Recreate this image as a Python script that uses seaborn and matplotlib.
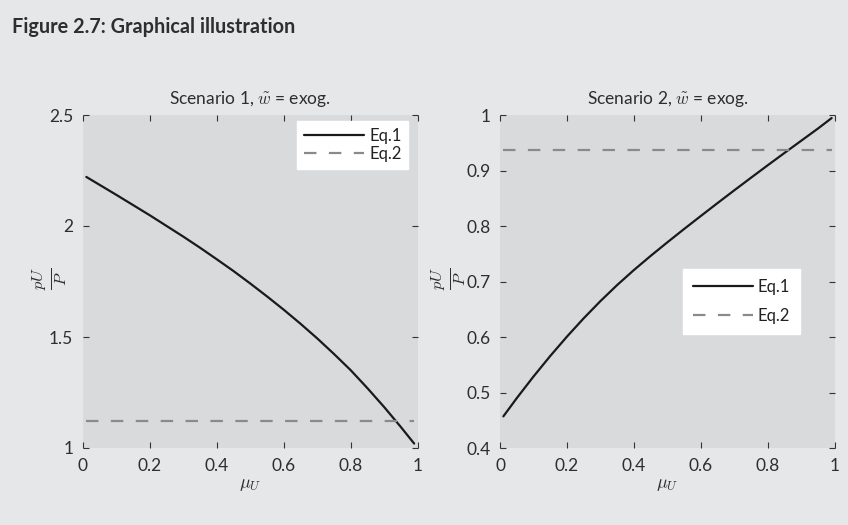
import numpy as np
import pandas as pd
import matplotlib
matplotlib.use("Agg")
import matplotlib.pyplot as plt
import seaborn as sns

# ---- data ----
mu_u = [0.01, 0.05, 0.1, 0.15, 0.2, 0.25, 0.3, 0.35, 0.4, 0.45, 0.5,
        0.55, 0.6, 0.65, 0.7, 0.75, 0.8, 0.85, 0.9, 0.95, 0.99]
s1_eq1 = [2.221, 2.185, 2.140, 2.094, 2.048, 2.000, 1.952, 1.902, 1.850, 1.797, 1.741,
          1.683, 1.623, 1.560, 1.494, 1.424, 1.351, 1.270, 1.185, 1.095, 1.020]
s1_eq2 = [1.12] * len(mu_u)
s2_eq1 = [0.457, 0.4898, 0.5288, 0.5658, 0.6008, 0.6338, 0.6648, 0.6938, 0.7208, 0.7463, 0.7708,
          0.7948, 0.8183, 0.8416, 0.8646, 0.8873, 0.9098, 0.932, 0.954, 0.976, 0.9945]
s2_eq2 = [0.937] * len(mu_u)
titles = [r"Scenario 1, $\tilde{w}$ = exog.", r"Scenario 2, $\tilde{w}$ = exog."]
xticks = [0, 0.2, 0.4, 0.6, 0.8, 1]
xticklabels = ["0", "0.2", "0.4", "0.6", "0.8", "1"]
yticks1 = [1, 1.5, 2, 2.5]
yticklabels1 = ["1", "1.5", "2", "2.5"]
yticks2 = [0.4, 0.5, 0.6, 0.7, 0.8, 0.9, 1]
yticklabels2 = ["0.4", "0.5", "0.6", "0.7", "0.8", "0.9", "1"]

sns.set_theme(style="white")
plt.rcParams['font.family'] = ['Lato', 'DejaVu Sans']
plt.rcParams['mathtext.fontset'] = 'cm'

FIG_BG = "#e6e7e8"
AX_BG = "#d9dadb"
TXT = "#2e2e2e"

fig = plt.figure(figsize=(8.48, 5.25), dpi=100, facecolor=FIG_BG)
ax1 = fig.add_axes([83/848, 1-448/525, 334.5/848, 333/525])
ax2 = fig.add_axes([500/848, 1-448/525, 335/848, 333/525])

fig.text(12/848, 1-27/525, "Figure 2.7: Graphical illustration", fontsize=14.3,
         fontweight="bold", color=TXT, va="center", ha="left")

def make_df(y1, y2):
    return pd.DataFrame({
        "mu": mu_u * 2,
        "val": list(y1) + list(y2),
        "eq": ["Eq.1"] * len(mu_u) + ["Eq.2"] * len(mu_u),
    })

panels = [
    (ax1, make_df(s1_eq1, s1_eq2), titles[0], yticks1, (1, 2.5), yticklabels1, -0.042),
    (ax2, make_df(s2_eq1, s2_eq2), titles[1], yticks2, (0.4, 1), yticklabels2, -0.097),
]

for i, (ax, df, title, yt, ylim, ylab, lblx) in enumerate(panels):
    ax.set_facecolor(AX_BG)
    sns.lineplot(data=df, x="mu", y="val", hue="eq", style="eq",
                 palette={"Eq.1": "#1a1a1a", "Eq.2": "#8a8a8a"},
                 dashes={"Eq.1": "", "Eq.2": (5.6, 5.6)},
                 linewidth=1.6, ax=ax)
    ax.set_xlim(0, 1)
    ax.set_ylim(*ylim)
    ax.set_xticks(xticks)
    ax.set_xticklabels(xticklabels)
    ax.set_yticks(yt)
    ax.set_yticklabels(ylab)
    for s in ax.spines.values():
        s.set_visible(False)
    ax.tick_params(direction="in", length=4, width=0.8, color="#333333",
                   top=True, right=True, bottom=True, left=True,
                   labelsize=12.5, labelcolor=TXT, pad=7)
    ax.set_title(title, fontsize=12.5, color=TXT, pad=8)
    ax.set_xlabel(r"$\mu_U$", fontsize=13, color=TXT, labelpad=2)
    ax.set_ylabel(r"$\frac{pU}{P}$", fontsize=17, color=TXT)
    ax.yaxis.set_label_coords(lblx, 0.51)
    ax.grid(False)

    handles, labels = ax.get_legend_handles_labels()
    if i == 0:
        leg = ax.legend(handles, labels, loc="upper right", bbox_to_anchor=(0.972, 0.982),
                        borderaxespad=0, frameon=True, fancybox=False, framealpha=1,
                        facecolor="white", edgecolor="white", fontsize=12,
                        handlelength=3.6, labelspacing=0.15, handletextpad=0.3,
                        borderpad=0.4)
    else:
        leg = ax.legend(handles, labels, loc="upper right", bbox_to_anchor=(0.896, 0.5375),
                        borderaxespad=0, frameon=True, fancybox=False, framealpha=1,
                        facecolor="white", edgecolor="white", fontsize=12,
                        handlelength=3.6, labelspacing=0.75, handletextpad=0.3,
                        borderpad=0.6)
    for t in leg.get_texts():
        t.set_color("#222222")

fig.savefig("out.png", dpi=100, facecolor=FIG_BG)
